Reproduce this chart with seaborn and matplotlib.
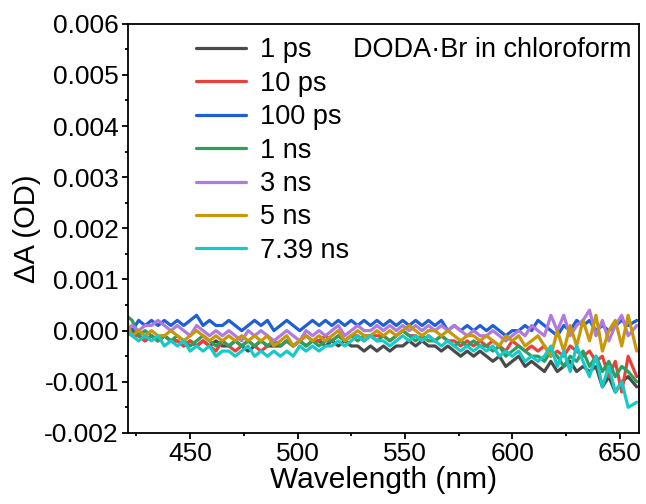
import numpy as np
import pandas as pd
import matplotlib
matplotlib.use("Agg")
import matplotlib.pyplot as plt
import seaborn as sns
from matplotlib.ticker import MultipleLocator, FuncFormatter

# ---------------- data (ΔA values in units of 1e-4 OD) ----------------
wavelength = [420, 423, 426, 429, 432, 435, 438, 441,
              444, 447, 450, 453, 456, 459, 462, 465,
              468, 471, 474, 477, 480, 483, 486, 489,
              492, 495, 498, 501, 504, 507, 510, 513,
              516, 519, 522, 525, 528, 531, 534, 537,
              540, 543, 546, 549, 552, 555, 558, 561,
              564, 567, 570, 573, 576, 579, 582, 585,
              588, 591, 594, 597, 600, 603, 606, 609,
              612, 615, 618, 621, 624, 627, 630, 633,
              636, 639, 642, 645, 648, 651, 654, 658]

dA_1ps = [-1, 0, -1, -2, -1, -2, -1, -2,
          -2, -3, -2, -3, -2, -3, -2, -3,
          -3, -2, -3, -4, -3, -2, -3, -3,
          -3, -2, -3, -2, -3, -2, -2, -3,
          -2, -3, -2, -3, -3, -4, -3, -4,
          -3, -4, -3, -3, -2, -3, -2, -3,
          -3, -4, -3, -4, -5, -4, -5, -4,
          -5, -6, -5, -7, -6, -5, -7, -6,
          -7, -8, -6, -8, -7, -6, -8, -7,
          -8, -7, -11, -9, -12, -10, -9, -11]

dA_10ps = [0, -1, -1, -2, -1, -2, -1, -2,
           -2, -3, -2, -3, -2, -3, -4, -2,
           -3, -4, -3, -2, -3, -4, -3, -2,
           -3, -2, -3, -2, -1, -2, -2, -1,
           -2, -1, -2, -1, -1, -2, -1, -1,
           -1, -2, -1, 0, -1, -1, -2, -1,
           -2, -1, -2, -2, -3, -2, -3, -2,
           -3, -2, -3, -4, -2, -3, -4, -3,
           -4, -3, -5, -4, -5, -3, -4, -5,
           -4, -6, -5, -9, -6, -12, -5, -9]

dA_100ps = [1, 0, 2, 1, 2, 1, 2, 1,
            2, 1, 2, 3, 1, 2, 1, 1,
            2, 1, 0, 1, 2, 1, 2, 0,
            1, 2, 1, 0, 1, 2, 1, 2,
            1, 2, 1, 2, 1, 2, 1, 2,
            1, 2, 1, 2, 1, 2, 1, 2,
            1, 2, 0, 1, 0, 1, 0, 1,
            0, 1, 0, -1, 0, 0, 1, 0,
            2, 1, 0, -1, 1, 0, 2, 1,
            2, 0, 1, 0, 1, 2, 1, 2]

dA_1ns = [3, 2, -1, 0, -1, -2, -1, -2,
          -1, -2, -3, -2, -1, -2, -3, -2,
          -3, -2, -3, -2, -3, -2, -3, -2,
          -3, -2, -3, -2, -3, -2, -3, -2,
          -2, -1, -2, -1, -2, -1, -1, -2,
          -1, -2, -1, 0, -1, -2, -1, -2,
          -2, -1, -2, -3, -2, -3, -2, -3,
          -3, -4, -3, -5, -4, -3, -4, -5,
          -5, -6, -4, -5, -7, -5, -6, -4,
          -7, -5, -8, -6, -9, -7, -8, -10]

dA_3ns = [0, 1, 0, 1, 1, 2, 1, 0,
          1, 0, -1, 1, 0, -1, 0, -1,
          0, -1, -2, 0, -1, 0, -1, -2,
          -1, 0, -1, -2, 0, -1, 0, -1,
          0, 1, -1, 0, 1, 0, 0, 1,
          0, 1, 0, 1, 0, 1, 0, 1,
          0, 1, 0, 1, 0, -1, 0, -1,
          -1, 0, -1, -2, -1, 0, -1, 1,
          0, -1, 3, 0, 3, -1, 1, 2,
          4, -1, 2, -2, 1, 3, -1, 1]

dA_5ns = [2, -1, 0, -1, 0, -1, -1, 0,
          -1, -2, -1, 0, -1, -2, -1, -2,
          -1, -2, -1, -2, -1, -2, -1, -3,
          -2, -1, -3, -2, -1, -2, -1, -2,
          -1, 0, -2, -1, 0, -1, -1, 0,
          -1, 0, -1, 0, 1, 0, -1, 0,
          0, -1, 0, -1, -2, -1, -1, -2,
          -1, -2, -3, -1, -2, -1, -3, -2,
          -1, -3, -5, 0, -4, 1, -3, 2,
          -2, 3, -4, 0, 2, -3, 3, -4]

dA_739ns = [0, -1, -2, -1, -2, -1, -3, -2,
            -3, -2, -4, -3, -4, -3, -5, -4,
            -4, -5, -4, -3, -5, -4, -5, -4,
            -5, -4, -5, -3, -4, -3, -4, -3,
            -3, -2, -3, -2, -1, -2, -1, -2,
            -2, -3, -2, -1, -2, -1, -2, -1,
            -2, -3, -2, -3, -4, -3, -4, -3,
            -4, -3, -5, -4, -5, -4, -6, -5,
            -6, -5, -3, -7, -4, -8, -3, -6,
            -9, -5, -11, -7, -12, -10, -15, -14]

labels = ["1 ps", "10 ps", "100 ps", "1 ns", "3 ns", "5 ns", "7.39 ns"]
series = [dA_1ps, dA_10ps, dA_100ps, dA_1ns, dA_3ns, dA_5ns, dA_739ns]
colors = ["#4a4a4a", "#e8413c", "#1f5fd6", "#2e9e5e", "#b07ae0", "#c8980a", "#17c9c9"]
UNIT = 1e-4

rows = []
for lab, vals in zip(labels, series):
    for w, v in zip(wavelength, vals):
        rows.append({"Wavelength": w, "dA": v * UNIT, "Delay": lab})
df = pd.DataFrame(rows)

# ---------------- plotting ----------------
sns.set_style("white")
plt.rcParams["font.family"] = ["Liberation Sans", "DejaVu Sans"]
plt.rcParams["axes.unicode_minus"] = False
for k in ["text.color", "axes.labelcolor", "xtick.color", "ytick.color"]:
    plt.rcParams[k] = "black"

fig = plt.figure(figsize=(6.46, 5.04), dpi=100)
ax = fig.add_axes([0.198, 0.141, 0.791, 0.812])

sns.lineplot(data=df, x="Wavelength", y="dA", hue="Delay", hue_order=labels,
             palette=dict(zip(labels, colors)), linewidth=2.3, ax=ax,
             sort=False, estimator=None)
for ln in ax.get_lines():
    ln.set_solid_joinstyle("round")

ax.set_xlim(421, 659)
ax.set_ylim(-0.002, 0.006)
ax.xaxis.set_major_locator(MultipleLocator(50))
ax.xaxis.set_minor_locator(MultipleLocator(25))
ax.yaxis.set_major_locator(MultipleLocator(0.001))
ax.yaxis.set_minor_locator(MultipleLocator(0.0005))
ax.yaxis.set_major_formatter(FuncFormatter(lambda v, p: f"{v:.3f}"))
ax.tick_params(which="major", direction="out", length=4.5, width=1.3,
               labelsize=19, bottom=True, left=True, top=False, right=False, pad=2)
ax.tick_params(which="minor", direction="out", length=2.5, width=1.3,
               bottom=True, left=True, top=False, right=False)
for s in ax.spines.values():
    s.set_linewidth(1.3)
    s.set_color("black")

ax.set_xlabel("Wavelength (nm)", fontsize=21.5, labelpad=0)
ax.set_ylabel("ΔA (OD)", fontsize=21, labelpad=2)

handles, labs = ax.get_legend_handles_labels()
leg = ax.legend(handles, labs, loc="upper left", bbox_to_anchor=(0.133, 0.967),
                frameon=False, fontsize=19.5, handlelength=1.85, handletextpad=0.52,
                labelspacing=0.275, borderpad=0, borderaxespad=0)
for h in leg.get_lines():
    h.set_linewidth(2.3)

ax.text(0.986, 0.936, "DODA·Br in chloroform", transform=ax.transAxes,
        ha="right", va="center", fontsize=19.5)

fig.savefig("out.png", dpi=100)
